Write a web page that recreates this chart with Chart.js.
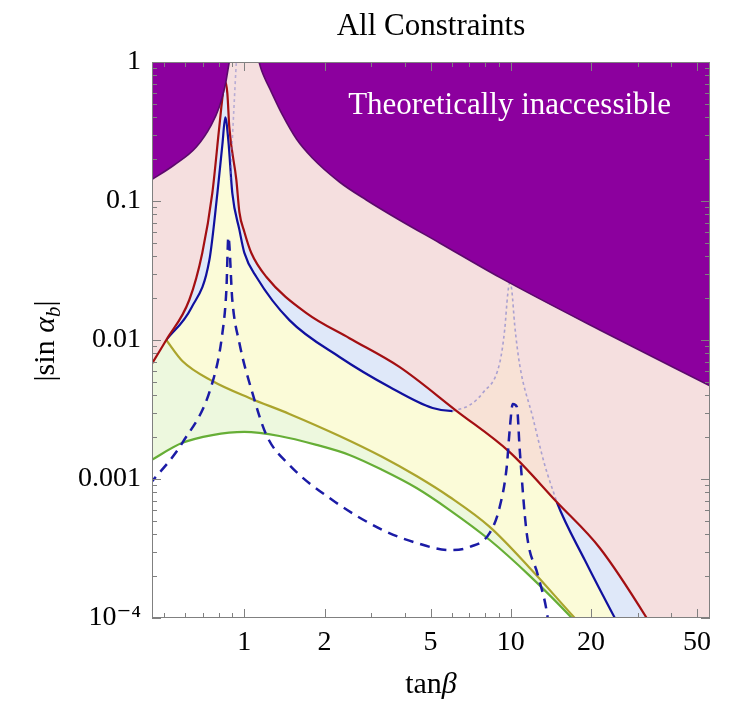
<!DOCTYPE html>
<html>
<head>
<title>All Constraints</title>
<script src="https://cdn.jsdelivr.net/npm/chart.js"></script>
<style>
    html, body { margin: 0; padding: 0; background: #fff; }
    #wrap { width: 731px; height: 705px; position: relative; }
</style>
</head>
<body>
<div id="wrap"><canvas id="chart"></canvas></div>
<script>
    // axis ticks
    const xTicks = [1, 2, 5, 10, 20, 50];
    const xMinor = [0.5, 0.6, 0.7, 0.8, 0.9, 3, 4, 6, 7, 8, 9, 30, 40];
    const yTicks = [0.0001, 0.001, 0.01, 0.1, 1];
    const yTickLabels = ['10\u207B\u2074', '0.001', '0.01', '0.1', '1'];

    // green constraint
    const greenX = [0.44, 0.585, 0.758, 1.0, 1.354, 1.865, 2.48, 3.30, 4.43, 5.90, 8.34, 11.79, 16.96, 20, 30];
    const greenY = [0.00134, 0.00182, 0.00207, 0.00218, 0.00204, 0.00176, 0.00149, 0.00116, 0.000861, 0.000598, 0.000364, 0.000201, 0.0001, 0.00007, 0.00002];

    // olive constraint
    const oliveX = [0.509, 0.585, 0.758, 1.044, 1.476, 2.276, 3.30, 4.43, 5.90, 8.34, 11.79, 17.4, 20, 30];
    const oliveY = [0.0100, 0.00706, 0.00507, 0.00383, 0.00294, 0.00204, 0.00144, 0.00105, 0.000742, 0.000452, 0.000229, 0.0001, 0.000075, 0.00002];

    // solid blue constraint (faint where it pokes above the red one)
    const blueX = [0.509, 0.632, 0.739, 0.792, 0.827, 0.848, 0.871, 0.901, 0.958, 1.0, 1.11, 1.476, 2.276, 3.51, 5.09,
                   6.05, 7.01, 7.85, 9.09, 9.49, 9.74, 9.91, 10.09, 10.35, 10.81, 12.09, 13.42, 14.89,
                   18.97, 24.6, 30, 60];
    const blueY = [0.0100, 0.0170, 0.0376, 0.114, 0.255, 0.40, 0.27, 0.114, 0.062, 0.0423, 0.0284, 0.0139, 0.00755, 0.00459, 0.00324,
                   0.00308, 0.0034, 0.00416, 0.00683, 0.0118, 0.0211, 0.0257, 0.0229, 0.0128, 0.0066, 0.00279, 0.00126, 0.000683,
                   0.000261, 0.0001, 0.00005, 1e-7];
    const bluePeakFrom = 6.05, bluePeakTo = 14.89;

    // red constraint
    const redX = [0.44, 0.509, 0.621, 0.695, 0.758, 0.805, 0.834, 0.848, 0.863, 0.878, 0.933, 0.958, 1.0, 1.062,
                  1.21, 1.71, 2.48, 3.82, 6.27, 9.91, 14.89, 21.6, 32.4, 40, 60];
    const redY = [0.0063, 0.0100, 0.0194, 0.0423, 0.114, 0.340, 0.629, 0.72, 0.598, 0.340, 0.142, 0.083, 0.0599, 0.0423,
                  0.0284, 0.0156, 0.0103, 0.0064, 0.00308, 0.00156, 0.000683, 0.000319, 0.0001, 0.00005, 1e-7];

    // faint branch near tanb ~ 0.9
    const faintX = [0.886, 0.901, 0.917, 0.933, 0.945];
    const faintY = [0.1416, 0.275, 0.533, 1.0, 1.4];

    // theoretically inaccessible boundary (null = gap above the frame)
    const purpleX = [0.44, 0.545, 0.660, 0.751, 0.805, 0.848, 0.878, 0.890, 1.0, 1.119, 1.159, 1.263, 1.39, 1.569, 1.80,
                     2.276, 2.87, 3.82, 5.41, 9.09, 21.6, 57];
    const purpleY = [0.139, 0.1815, 0.245, 0.352, 0.475, 0.684, 1.0, 1.12, null, 1.104, 0.876, 0.608, 0.416, 0.279, 0.204,
                     0.137, 0.1017, 0.0730, 0.0499, 0.0282, 0.0118, 0.0046];

    // dashed blue curve
    const dashX = [0.44, 0.585, 0.758, 0.827, 0.856, 0.871, 0.901, 0.958, 1.072, 1.21, 1.476, 2.14, 3.30, 4.43, 5.90,
                   7.01, 8.34, 9.09, 9.66, 9.91, 10.18, 10.55, 10.81, 11.48, 12.64, 13.77, 14.3];
    const dashY = [0.00091, 0.00182, 0.00491, 0.0112, 0.0229, 0.0551, 0.0194, 0.0095, 0.00416, 0.00207, 0.00126, 0.000706, 0.00043, 0.000347, 0.000308,
                   0.000324, 0.000409, 0.000629, 0.00122, 0.00225, 0.00347, 0.0033, 0.00162, 0.000409, 0.000204, 0.0001, 0.00005];

    function pts(xs, ys) {
        return xs.map((x, i) => ({ x: x, y: ys[i] }));
    }

    const peakIdx = blueX.map((x, i) => i).filter(i => blueX[i] >= bluePeakFrom && blueX[i] <= bluePeakTo);
    const bluePeakX = peakIdx.map(i => blueX[i]);
    const bluePeakY = peakIdx.map(i => blueY[i]);

    const serif = "'Liberation Serif', 'DejaVu Serif', serif";

    function line(data, color, width, extra) {
        return Object.assign({
            data: data,
            borderColor: color,
            borderWidth: width,
            pointRadius: 0,
            cubicInterpolationMode: 'monotone',
            fill: false
        }, extra);
    }

    const frame = {
        id: 'frame',
        afterDatasetsDraw(chart) {
            const ctx = chart.ctx;
            const a = chart.chartArea;
            const xs = chart.scales.x, ys = chart.scales.y;
            ctx.save();
            ctx.strokeStyle = '#808080';
            ctx.lineWidth = 1;
            ctx.strokeRect(a.left + 0.5, a.top + 0.5, a.right - a.left - 1, a.bottom - a.top - 1);
            ctx.beginPath();
            const tickX = (v, len) => {
                const p = Math.round(xs.getPixelForValue(v)) + 0.5;
                ctx.moveTo(p, a.bottom); ctx.lineTo(p, a.bottom - len);
                ctx.moveTo(p, a.top); ctx.lineTo(p, a.top + len);
            };
            const tickY = (v, len) => {
                const p = Math.round(ys.getPixelForValue(v)) + 0.5;
                ctx.moveTo(a.left, p); ctx.lineTo(a.left + len, p);
                ctx.moveTo(a.right, p); ctx.lineTo(a.right - len, p);
            };
            xTicks.forEach(v => tickX(v, 9));
            xMinor.forEach(v => tickX(v, 5));
            yTicks.forEach(v => tickY(v, 9));
            for (let d = 0.0001; d < 1; d *= 10) {
                for (let m = 2; m <= 9; m++) tickY(d * m, 5);
            }
            ctx.stroke();

            // texts
            ctx.fillStyle = '#000';
            ctx.textAlign = 'center';
            ctx.textBaseline = 'alphabetic';
            ctx.font = '31px ' + serif;
            ctx.fillText('All Constraints', (a.left + a.right) / 2, 35);

            ctx.fillStyle = '#fff';
            ctx.fillText('Theoretically inaccessible', xs.getPixelForValue(9.9), 114);

            // x axis title: tan + italic beta
            ctx.fillStyle = '#000';
            ctx.textAlign = 'left';
            const fN = '30px ' + serif, fI = 'italic 30px ' + serif;
            ctx.font = fN; const w1 = ctx.measureText('tan').width;
            ctx.font = fI; const w2 = ctx.measureText('\u03B2').width;
            let x0 = (a.left + a.right) / 2 - (w1 + w2) / 2;
            ctx.font = fN; ctx.fillText('tan', x0, 693);
            ctx.font = fI; ctx.fillText('\u03B2', x0 + w1, 693);

            // y axis title: |sin alpha_b|
            ctx.translate(54, 341);
            ctx.rotate(-Math.PI / 2);
            const fS = 'italic 21px ' + serif;
            const parts = [['|sin ', fN, 0], ['\u03B1', fI, 0], ['b', fS, 6], ['|', fN, 0]];
            let total = 0;
            parts.forEach(p => { ctx.font = p[1]; p.push(ctx.measureText(p[0]).width); total += p[3]; });
            let cx = -total / 2;
            parts.forEach(p => { ctx.font = p[1]; ctx.fillText(p[0], cx, p[2]); cx += p[3]; });
            ctx.restore();
        }
    };

    new Chart(document.getElementById('chart'), {
        type: 'line',
        data: {
            datasets: [
                line(pts(greenX, greenY), '#66ae36', 2.2, { fill: 'end', backgroundColor: '#edf8de', order: 10 }),
                line(pts(oliveX, oliveY), '#aba42c', 2.2, { fill: 'end', backgroundColor: '#fbfbd8', order: 9 }),
                line(pts(blueX, blueY), '#10109e', 2.2, {
                    fill: 'end', backgroundColor: '#dfe8f9', order: 8,
                    segment: {
                        borderColor: c => (c.p0.parsed.x >= bluePeakFrom && c.p1.parsed.x <= bluePeakTo) ? 'rgba(0,0,0,0)' : undefined
                    }
                }),
                // red: fill first, line drawn separately above the peach patch
                line(pts(redX, redY), 'rgba(0,0,0,0)', 0, { fill: 'end', backgroundColor: '#f5dfdf', order: 7 }),
                line(pts(bluePeakX, bluePeakY), 'rgba(110,110,200,0.55)', 1.6, {
                    fill: { target: 3, above: '#f8e2d6', below: 'rgba(0,0,0,0)' }, borderDash: [3, 3], order: 6
                }),
                line(pts(redX, redY), '#a30f12', 2.2, { order: 5.5 }),
                line(pts(faintX, faintY), 'rgba(110,110,200,0.45)', 1.6, { borderDash: [3, 3], order: 5 }),
                line(pts(purpleX, purpleY), '#5c0a6c', 1.6, { fill: 'end', backgroundColor: '#8c009e', order: 4, spanGaps: false }),
                line(pts(dashX, dashY), '#1b1ba6', 2.5, { borderDash: [10, 7], order: 3 })
            ]
        },
        options: {
            responsive: true,
            maintainAspectRatio: false,
            animation: false,
            layout: { padding: { left: 0, right: 21, top: 62, bottom: 0 } },
            plugins: {
                legend: { display: false },
                tooltip: { enabled: false },
                title: { display: false }
            },
            scales: {
                x: {
                    type: 'logarithmic',
                    min: 0.45,
                    max: 56,
                    grid: { display: false, drawTicks: false },
                    border: { display: false },
                    afterBuildTicks: s => { s.ticks = xTicks.map(v => ({ value: v })); },
                    afterFit: s => { s.height = 87; },
                    ticks: {
                        autoSkip: false,
                        maxRotation: 0,
                        padding: 8,
                        color: '#000',
                        font: { family: serif, size: 28 },
                        callback: (v, i) => String(xTicks[i])
                    }
                },
                y: {
                    type: 'logarithmic',
                    min: 0.0001,
                    max: 1,
                    grid: { display: false, drawTicks: false },
                    border: { display: false },
                    afterBuildTicks: s => { s.ticks = yTicks.map(v => ({ value: v })); },
                    afterFit: s => { s.width = 152; },
                    ticks: {
                        autoSkip: false,
                        padding: 11,
                        color: '#000',
                        font: { family: serif, size: 28 },
                        callback: (v, i) => yTickLabels[i]
                    }
                }
            }
        },
        plugins: [frame]
    });
</script>
</body>
</html>
